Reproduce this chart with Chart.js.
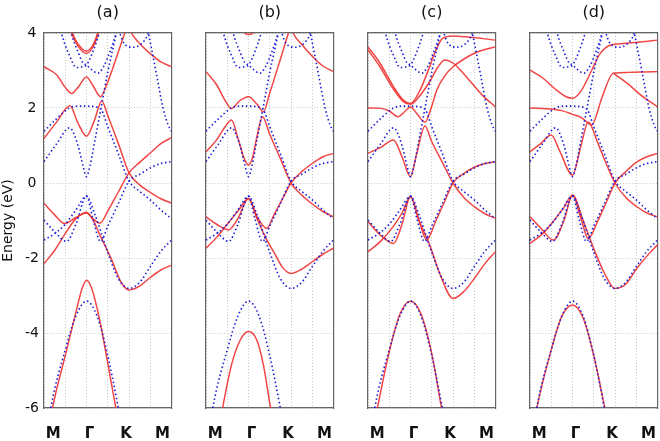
<!DOCTYPE html>
<html>
<head>
<meta charset="utf-8">
<script src="https://cdn.jsdelivr.net/npm/chart.js@4.4.1/dist/chart.umd.min.js"></script>
<style>
  html, body { margin: 0; padding: 0; background: #fff; }
  #wrap { position: relative; width: 660px; height: 441px; }
  canvas { position: absolute; top: 0; }
</style>
</head>
<body>
<div id="wrap">
  <canvas id="pa" width="180" height="441" style="left:0px"></canvas>
  <canvas id="pb" width="146" height="441" style="left:196px"></canvas>
  <canvas id="pc" width="146" height="441" style="left:358px"></canvas>
  <canvas id="pd" width="140" height="441" style="left:520px"></canvas>
</div>
<script>
// k-path: M=0, Γ=1, K=2, M=3 ; energies in eV
const kLabels = ['M', 'Γ', 'K', 'M'];
const gridK = [0, 0.5, 1, 1.5, 2, 2.5, 3];
const yTicks = [-6, -4, -2, 0, 2, 4];
const panelTitles = ['(a)', '(b)', '(c)', '(d)'];

// reference bands (blue dotted), same in every panel
const blueLow = [[0,-7.3],[0.16,-6.0],[0.5,-4.45],[0.75,-3.55],[1.0,-3.15],[1.25,-3.55],[1.5,-4.6],[1.75,-6.0],[1.9,-6.9]];
const blueV2 = [[0,-1.52],[0.25,-1.35],[0.5,-1.1],[0.75,-0.72],[1.0,-0.35],[1.2,-0.85],[1.5,-1.85],[1.75,-2.55],[2.0,-2.81],[2.25,-2.65],[2.5,-2.23],[2.75,-1.82],[3,-1.52]];
const blueV1 = [[0,-0.99],[0.25,-1.3],[0.53,-1.56],[0.75,-1.1],[1.0,-0.35],[1.15,-0.95],[1.33,-1.56],[1.5,-1.15],[1.75,-0.55],[2.0,0.05],[2.25,0.23],[2.5,0.4],[2.75,0.52],[3,0.57]];
const blueC1 = [[0,1.38],[0.3,1.72],[0.6,2.0],[0.8,2.05],[1.0,2.05],[1.2,2.03],[1.35,1.95],[1.5,1.5],[1.75,0.78],[2.0,0.05],[2.25,-0.22],[2.5,-0.45],[2.75,-0.72],[3,-0.95]];
const blueC2 = [[0,0.57],[0.3,1.05],[0.6,1.47],[0.8,1.0],[0.92,0.45],[1.0,0.17],[1.08,0.45],[1.2,1.15],[1.35,2.05],[1.5,2.95],[1.7,4.0],[1.8,4.6]];
const blueT1 = [[0.3,4.6],[0.41,4.0],[0.6,3.4],[0.76,3.08],[0.9,3.1],[1.0,3.15],[1.15,3.5],[1.3,4.0],[1.4,4.4]];
const blueT2 = [[0.55,4.5],[0.64,4.0],[0.8,3.5],[0.92,3.2],[1.0,3.15],[1.1,3.04],[1.27,2.93],[1.4,3.1],[1.55,3.5],[1.7,4.0],[1.8,4.4]];
const blueT3 = [[1.7,4.4],[1.8,3.95],[1.9,3.7],[2.1,3.62],[2.3,3.72],[2.45,3.98],[2.55,4.4]];
const blueT4 = [[2.35,4.6],[2.5,3.75],[2.65,2.88],[2.8,2.0],[2.92,1.55],[3.0,1.38]];

// panel (a) red
const redA1 = [[0.45,4.9],[0.65,4.0],[0.8,3.65],[1.0,3.46],[1.15,3.62],[1.28,4.0],[1.45,4.8]];
const redA1b = [[0.45,4.96],[0.65,4.06],[0.8,3.71],[1.0,3.52],[1.15,3.68],[1.28,4.06],[1.45,4.86]];
const redA2 = [[0,3.1],[0.3,2.88],[0.5,2.55],[0.65,2.39],[0.8,2.55],[1.0,2.83],[1.15,2.6],[1.33,2.3],[1.45,2.55],[1.6,3.0],[1.75,3.5],[1.9,4.0],[1.98,4.25],[2.06,4.0],[2.25,3.72],[2.5,3.45],[2.75,3.23],[3,3.1]];
const redA3 = [[0,1.19],[0.3,1.63],[0.61,2.06],[0.8,1.6],[1.0,1.25],[1.18,1.65],[1.36,2.19],[1.5,1.8],[1.75,1.05],[2.0,0.27],[2.25,-0.05],[2.5,-0.25],[2.75,-0.42],[3,-0.54]];
const redA4 = [[0,-0.54],[0.25,-0.85],[0.49,-1.08],[0.75,-0.92],[1.0,-0.8],[1.15,-0.95],[1.32,-1.07],[1.5,-0.75],[1.75,-0.24],[2.0,0.27],[2.25,0.55],[2.5,0.8],[2.75,1.05],[3,1.21]];
const redA5 = [[0,-2.15],[0.25,-1.8],[0.5,-1.35],[0.75,-0.95],[1.0,-0.78],[1.15,-0.98],[1.3,-1.35],[1.6,-2.07],[1.8,-2.62],[2.0,-2.85],[2.25,-2.75],[2.5,-2.52],[2.75,-2.32],[3,-2.19]];
const redA6 = [[0,-7.4],[0.2,-6.0],[0.5,-4.6],[0.75,-3.45],[0.9,-2.8],[1.0,-2.59],[1.12,-2.8],[1.3,-3.6],[1.5,-4.8],[1.69,-6.0],[1.85,-7.0]];

// panel (b) red
const redB1 = [[0.75,4.6],[0.88,4.05],[1.0,3.96],[1.15,4.05],[1.3,4.6]];
const redB2 = [[0,2.97],[0.25,2.62],[0.45,2.2],[0.6,1.99],[0.8,2.2],[1.0,2.3],[1.2,2.1],[1.35,1.9],[1.5,2.4],[1.75,3.3],[1.94,4.0],[2.0,4.2],[2.05,4.0],[2.25,3.7],[2.5,3.38],[2.75,3.12],[3,2.97]];
const redB3 = [[0,0.83],[0.25,1.15],[0.45,1.5],[0.6,1.68],[0.75,1.2],[0.9,0.65],[1.0,0.48],[1.1,0.7],[1.2,1.25],[1.33,1.77],[1.5,1.3],[1.75,0.65],[2.0,0.0],[2.25,-0.32],[2.5,-0.56],[2.75,-0.76],[3,-0.9]];
const redB4 = [[0,-0.9],[0.25,-1.1],[0.53,-1.25],[0.75,-0.95],[1.0,-0.41],[1.2,-0.9],[1.43,-1.21],[1.6,-0.85],[1.8,-0.42],[2.0,0.0],[2.25,0.3],[2.5,0.52],[2.75,0.7],[3,0.79]];
const redB5 = [[0,-1.74],[0.25,-1.45],[0.5,-1.1],[0.75,-0.75],[1.0,-0.41],[1.2,-0.95],[1.4,-1.45],[1.6,-1.85],[1.8,-2.25],[2.0,-2.41],[2.25,-2.3],[2.5,-2.1],[2.75,-1.9],[3,-1.74]];
const redB6 = [[0.2,-7.2],[0.39,-6.0],[0.6,-4.85],[0.8,-4.2],[1.0,-3.96],[1.2,-4.2],[1.35,-4.85],[1.52,-6.0],[1.7,-7.1]];

// panel (c) red
const redC1 = [[0,3.63],[0.28,3.2],[0.6,2.57],[0.83,2.21],[1.0,2.12],[1.2,2.42],[1.4,2.95],[1.6,3.55],[1.75,3.85],[2.0,3.92],[2.3,3.9],[2.7,3.85],[3,3.81]];
const redC1b = [[0,3.55],[0.28,3.1],[0.6,2.5],[0.83,2.17],[1.0,2.1],[1.2,2.3],[1.45,2.7],[1.65,3.1],[1.81,3.28],[2.0,3.2],[2.2,2.98],[2.4,2.72],[2.7,2.33],[3,2.03]];
const redC2 = [[0,2.0],[0.3,1.99],[0.5,1.92],[0.71,1.77],[0.88,1.92],[1.0,2.03],[1.15,1.85],[1.34,1.62],[1.5,2.05],[1.62,2.48],[1.8,2.85],[2.0,3.1],[2.25,3.3],[2.5,3.46],[2.75,3.56],[3,3.63]];
const redC3 = [[0,0.79],[0.3,0.95],[0.6,1.15],[0.8,0.7],[1.0,0.17],[1.15,0.8],[1.34,1.52],[1.5,1.1],[1.75,0.55],[2.0,0.0],[2.25,-0.38],[2.5,-0.63],[2.75,-0.82],[3,-0.94]];
const redC4 = [[0,-1.03],[0.3,-1.4],[0.6,-1.61],[0.8,-1.1],[1.0,-0.36],[1.2,-1.0],[1.38,-1.52],[1.6,-1.0],[1.8,-0.5],[2.0,0.0],[2.25,0.25],[2.5,0.42],[2.75,0.52],[3,0.57]];
const redC5 = [[0,-1.83],[0.3,-1.55],[0.6,-1.15],[0.8,-0.8],[1.0,-0.36],[1.2,-1.0],[1.45,-1.65],[1.7,-2.45],[2.0,-3.08],[2.25,-2.9],[2.5,-2.55],[2.75,-2.15],[3,-1.83]];
const redC6 = [[0,-7.2],[0.22,-6.0],[0.5,-4.5],[0.75,-3.5],[1.0,-3.15],[1.25,-3.5],[1.5,-4.55],[1.73,-6.0],[1.9,-7.0]];

// panel (d) red
const redD1 = [[0,3.01],[0.3,2.8],[0.6,2.5],[0.85,2.3],[1.0,2.26],[1.2,2.45],[1.45,3.0],[1.65,3.45],[1.9,3.68],[2.2,3.72],[2.6,3.76],[3,3.81]];
const redD2 = [[0,2.0],[0.4,1.98],[0.75,1.93],[1.0,1.83],[1.2,1.75],[1.45,1.55],[1.7,2.3],[1.96,2.93],[2.3,2.95],[2.7,2.96],[3,2.97]];
const redD2b = [[1.96,2.93],[2.3,2.65],[2.6,2.35],[3,2.03]];
const redD3 = [[0,0.83],[0.25,1.05],[0.5,1.28],[0.7,0.85],[1.0,0.21],[1.2,1.0],[1.37,1.63],[1.6,1.05],[1.8,0.5],[2.0,0.0],[2.25,-0.38],[2.5,-0.62],[2.75,-0.8],[3,-0.9]];
const redD4 = [[0,-0.9],[0.25,-1.2],[0.55,-1.52],[0.8,-1.0],[1.0,-0.32],[1.2,-0.95],[1.37,-1.48],[1.6,-1.0],[1.8,-0.5],[2.0,0.0],[2.25,0.3],[2.5,0.55],[2.75,0.7],[3,0.79]];
const redD5 = [[0,-1.61],[0.3,-1.35],[0.6,-0.95],[0.8,-0.65],[1.0,-0.32],[1.25,-1.0],[1.5,-1.75],[1.75,-2.4],[2.0,-2.81],[2.25,-2.7],[2.5,-2.3],[2.75,-1.95],[3,-1.65]];
const redD6 = [[0,-7.0],[0.16,-6.0],[0.5,-4.45],[0.75,-3.55],[1.0,-3.25],[1.25,-3.6],[1.5,-4.6],[1.76,-6.0],[1.9,-6.8]];

const blueBands = [blueLow, blueV2, blueV1, blueC1, blueC2, blueT1, blueT2, blueT3, blueT4];
const redSets = [
  [redA1, redA1b, redA2, redA3, redA4, redA5, redA6],
  [redB1, redB2, redB3, redB4, redB5, redB6],
  [redC1, redC1b, redC2, redC3, redC4, redC5, redC6],
  [redD1, redD2, redD2b, redD3, redD4, redD5, redD6],
];

const FONT = "'DejaVu Sans', sans-serif";
const RED = 'rgba(240, 50, 50, 0.9)';
const BLUE = '#1c1cd8';
const GRID = '#c8c8c8';
const FRAME = '#666';

function band(points, color, dotted) {
  return {
    data: points.map(([k, e]) => ({ x: k, y: e })),
    borderColor: color,
    borderWidth: dotted ? 1.6 : 1.5,
    borderDash: dotted ? [1.5, 2.6] : [],
    pointRadius: 0,
    fill: false,
    cubicInterpolationMode: 'monotone',
  };
}

function panel(id, idx, padL, padR) {
  const first = idx === 0;
  // blue first so it sits on top of the red lines
  const datasets = blueBands.map(b => band(b, BLUE, true))
    .concat(redSets[idx].map(b => band(b, RED, false)));
  return new Chart(document.getElementById(id), {
    type: 'line',
    data: { datasets },
    options: {
      responsive: false,
      animation: false,
      events: [],
      layout: { padding: { left: padL, right: padR, top: 0, bottom: 0 } },
      plugins: {
        legend: { display: false },
        tooltip: { enabled: false },
        title: {
          display: true, text: panelTitles[idx], fullSize: false, color: '#111',
          font: { family: FONT, size: 16, weight: 'normal' },
          padding: { top: 3.5, bottom: 10.3 },
        },
      },
      scales: {
        // grid axis; its empty height pushes the k labels down
        x: {
          type: 'linear', min: 0, max: 3,
          afterBuildTicks: s => { s.ticks = gridK.map(v => ({ value: v })); },
          ticks: { display: false },
          grid: { color: GRID, drawTicks: false },
          border: { display: true, color: FRAME, width: 1.2, dash: [1, 2] },
          afterFit: s => { s.height = 17; },
        },
        xl: {
          type: 'linear', position: 'bottom', weight: 1, min: -0.25, max: 3.25,
          afterBuildTicks: s => { s.ticks = kLabels.map((_, i) => ({ value: i })); },
          ticks: {
            callback: v => kLabels[v], color: '#111', padding: 0, maxRotation: 0,
            font: { family: FONT, size: 15, weight: 'bold' },
          },
          grid: { display: false, drawTicks: false },
          border: { display: false },
          afterFit: s => { s.height = 16; },
        },
        x2: {
          type: 'linear', position: 'top', min: 0, max: 3,
          ticks: { display: false },
          grid: { display: false, drawTicks: false },
          border: { display: true, color: FRAME, width: 1.2 },
          afterFit: s => { s.height = 0; },
        },
        y: {
          type: 'linear', min: -6, max: 4,
          afterBuildTicks: s => { s.ticks = yTicks.map(v => ({ value: v })); },
          ticks: {
            display: first, color: '#111', padding: 5, crossAlign: 'center',
            font: { family: FONT, size: 14 },
          },
          grid: { color: GRID, drawTicks: false },
          border: { display: true, color: FRAME, width: 1.2, dash: [1, 2] },
          title: {
            display: first, text: 'Energy (eV)', color: '#111', padding: 0,
            font: { family: FONT, size: 14 },
          },
          afterFit: s => { s.width = first ? 44 : 0; },
        },
        y2: {
          type: 'linear', position: 'right', min: -6, max: 4,
          ticks: { display: false },
          grid: { display: false, drawTicks: false },
          border: { display: true, color: FRAME, width: 1.2 },
          afterFit: s => { s.width = 0; },
        },
      },
    },
  });
}

panel('pa', 0, 0, 8.5);
panel('pb', 1, 10, 8.5);
panel('pc', 2, 10, 8.5);
panel('pd', 3, 10, 2.5);
</script>
</body>
</html>
